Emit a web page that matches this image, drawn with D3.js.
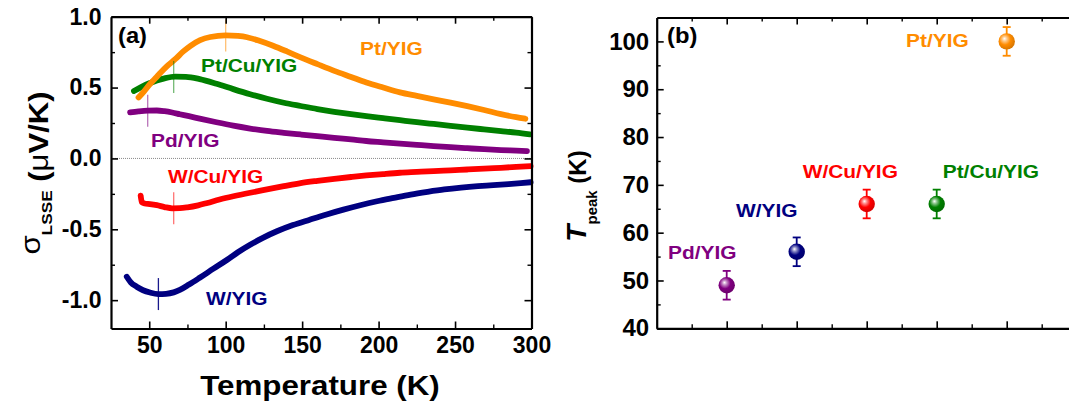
<!DOCTYPE html>
<html>
<head>
<meta charset="utf-8">
<script src="https://cdn.jsdelivr.net/npm/d3@7"></script>
<style>
  html, body { margin: 0; padding: 0; background: #fff; }
  svg { display: block; font-family: "Liberation Sans", Arial, Helvetica, sans-serif; font-weight: bold; }
</style>
</head>
<body>
<svg id="chart" width="1069" height="402"></svg>
<script>
// ---- Samples -------------------------------------------------------------
const samples      = ["Pd/YIG", "W/YIG", "W/Cu/YIG", "Pt/Cu/YIG", "Pt/YIG"];
const sampleColors = ["#800080", "#000080", "#ff0000", "#008000", "#ff8c00"];

// Temperature of the extremum of sigma_LSSE(T) for each sample (K) and its error
const tPeak    = [49, 56, 66, 66, 100];
const tPeakErr = [3, 3, 3, 3, 3];

// ---- sigma_LSSE(T) curves (T in K, sigma in uV/K) ------------------------
const pdYigT = [37.5, 43, 49, 55, 60, 65, 70, 76, 83, 94, 105, 116, 127, 138, 149, 160, 171, 182, 192, 203, 214, 225, 236, 247, 258, 269, 280, 290, 297];
const pdYigS = [0.325, 0.332, 0.337, 0.338, 0.333, 0.324, 0.312, 0.298, 0.281, 0.255, 0.231, 0.211, 0.194, 0.181, 0.169, 0.157, 0.145, 0.134, 0.123, 0.114, 0.105, 0.096, 0.087, 0.079, 0.072, 0.065, 0.059, 0.055, 0.052];

const wYigT = [35.3, 38, 41.8, 46, 50.5, 56, 61, 66, 70, 76, 83, 92, 101, 108, 116, 124, 133.5, 144, 155, 166, 177, 188, 199, 210, 221, 232, 243, 254, 265, 275, 285, 293, 299.4];
const wYigS = [-0.835, -0.875, -0.905, -0.930, -0.946, -0.957, -0.955, -0.945, -0.928, -0.890, -0.842, -0.778, -0.715, -0.662, -0.609, -0.562, -0.514, -0.470, -0.432, -0.395, -0.361, -0.330, -0.302, -0.278, -0.255, -0.236, -0.219, -0.206, -0.196, -0.189, -0.181, -0.174, -0.168];

const wCuYigT = [44.4, 45.2, 47, 50.5, 55, 60, 65, 70, 75, 82, 88, 96, 105, 116, 127, 138, 149, 160, 171, 182, 192, 203, 214, 225, 236, 247, 258, 269, 280, 290, 299.4];
const wCuYigS = [-0.262, -0.310, -0.318, -0.322, -0.330, -0.343, -0.352, -0.351, -0.345, -0.331, -0.314, -0.290, -0.267, -0.242, -0.219, -0.196, -0.174, -0.158, -0.144, -0.131, -0.120, -0.110, -0.101, -0.095, -0.089, -0.084, -0.078, -0.072, -0.066, -0.060, -0.054];

const ptCuYigT = [40, 45, 50.5, 55, 60, 67, 74, 83, 94, 105, 116, 127, 138, 149, 160, 171, 182, 192, 203, 214, 225, 236, 247, 258, 269, 280, 290, 299];
const ptCuYigS = [0.476, 0.505, 0.532, 0.550, 0.565, 0.577, 0.576, 0.560, 0.527, 0.489, 0.453, 0.421, 0.393, 0.370, 0.348, 0.329, 0.312, 0.298, 0.284, 0.270, 0.256, 0.243, 0.230, 0.217, 0.205, 0.193, 0.182, 0.170];

const ptYigT = [43, 46.5, 50.5, 54, 58, 61.5, 67, 72.3, 77, 83.3, 90, 100, 108, 114, 122, 131, 140, 149, 160, 171, 182, 192, 203, 214, 225, 236, 247, 258, 269, 280, 290, 296];
const ptYigS = [0.430, 0.472, 0.525, 0.565, 0.612, 0.650, 0.700, 0.755, 0.795, 0.835, 0.857, 0.868, 0.864, 0.855, 0.830, 0.795, 0.755, 0.713, 0.665, 0.618, 0.575, 0.536, 0.500, 0.466, 0.441, 0.417, 0.394, 0.369, 0.342, 0.313, 0.291, 0.280];

// curves listed in sample order
const curveT = [pdYigT, wYigT, wCuYigT, ptCuYigT, ptYigT];
const curveS = [pdYigS, wYigS, wCuYigS, ptCuYigS, ptYigS];
// drawing order (Pt/YIG passes over Pt/Cu/YIG)
const drawOrder = [0, 1, 2, 3, 4];

// ---- Axis ticks ----------------------------------------------------------
const tempMajor  = [50, 100, 150, 200, 250, 300];
const tempMinor  = [75, 125, 175, 225, 275];
const sigmaMajor = [-1.0, -0.5, 0.0, 0.5, 1.0];
const sigmaMinor = [-0.75, -0.25, 0.25, 0.75];
const sigmaTickLabels = ["-1.0", "-0.5", "0.0", "0.5", "1.0"];
const peakMajor  = [40, 50, 60, 70, 80, 90, 100];
const peakMinor  = [45, 55, 65, 75, 85, 95];
const slotMajor  = [1, 2, 3, 4, 5];
const slotMinor  = [0.5, 1.5, 2.5, 3.5, 4.5, 5.5];

// ---- Layout --------------------------------------------------------------
const svg = d3.select("#chart");
const FONT = "'Liberation Sans', Arial, Helvetica, sans-serif";

const xA = d3.scaleLinear().domain([25, 300]).range([111, 531.5]);
const yA = d3.scaleLinear().domain([-1.2, 1.0]).range([328.5, 16.7]);
const xB = d3.scaleLinear().domain([0, 6]).range([656.7, 1076.7]);
const yB = d3.scaleLinear().domain([40, 105]).range([328.3, 17.5]);

// gradients for the spherical markers
const defs = svg.append("defs");
sampleColors.forEach((c, i) => {
  const g = defs.append("radialGradient").attr("id", "sph" + i)
    .attr("cx", "0.42").attr("cy", "0.40").attr("r", "0.62")
    .attr("fx", "0.36").attr("fy", "0.33");
  g.append("stop").attr("offset", "0").attr("stop-color", "#ffffff");
  g.append("stop").attr("offset", "0.22").attr("stop-color", d3.interpolateRgb(c, "#fff")(0.55));
  g.append("stop").attr("offset", "0.55").attr("stop-color", c);
  g.append("stop").attr("offset", "1").attr("stop-color", d3.color(c).darker(0.5));
});

function styleAxis(g, fontSize) {
  g.attr("font-family", FONT).attr("font-size", fontSize).attr("font-weight", "bold");
  g.selectAll(".domain").attr("stroke", "#000").attr("stroke-width", 2.2);
  g.selectAll(".tick line").attr("stroke", "#000").attr("stroke-width", 1.6);
  g.selectAll(".tick text").attr("fill", "#000");
}
function minorAxis(g) {
  g.select(".domain").remove();
  g.selectAll(".tick line").attr("stroke", "#000").attr("stroke-width", 1.4);
}

// framed box with inward ticks on every side
function frame(x, y, xMaj, xMin, yMaj, yMin, opts) {
  const [x0, x1] = x.range(), [y0, y1] = y.range();
  const g = svg.append("g");
  // minors
  g.append("g").attr("transform", `translate(0,${y0})`)
    .call(d3.axisBottom(x).tickValues(xMin).tickSize(-4).tickFormat("")).call(minorAxis);
  g.append("g").attr("transform", `translate(0,${y1})`)
    .call(d3.axisTop(x).tickValues(xMin).tickSize(-4).tickFormat("")).call(minorAxis);
  g.append("g").attr("transform", `translate(${x0},0)`)
    .call(d3.axisLeft(y).tickValues(yMin).tickSize(-4).tickFormat("")).call(minorAxis);
  g.append("g").attr("transform", `translate(${x1},0)`)
    .call(d3.axisRight(y).tickValues(yMin).tickSize(-4).tickFormat("")).call(minorAxis);
  // majors
  g.append("g").attr("transform", `translate(0,${y0})`)
    .call(d3.axisBottom(x).tickValues(xMaj).tickSize(-7).tickSizeOuter(0)
      .tickPadding(8).tickFormat(opts.xFormat))
    .call(s => styleAxis(s, opts.fontSize));
  g.append("g").attr("transform", `translate(0,${y1})`)
    .call(d3.axisTop(x).tickValues(xMaj).tickSize(-7).tickSizeOuter(0).tickFormat(""))
    .call(s => styleAxis(s, opts.fontSize));
  g.append("g").attr("transform", `translate(${x0},0)`)
    .call(d3.axisLeft(y).tickValues(yMaj).tickSize(-7).tickSizeOuter(0)
      .tickPadding(opts.yPad).tickFormat(opts.yFormat))
    .call(s => styleAxis(s, opts.fontSize));
  g.append("g").attr("transform", `translate(${x1},0)`)
    .call(d3.axisRight(y).tickValues(yMaj).tickSize(-7).tickSizeOuter(0).tickFormat(""))
    .call(s => styleAxis(s, opts.fontSize));
  return g;
}

// ---- Panel (a) -----------------------------------------------------------
const pa = svg.append("g");

// zero reference
pa.append("line")
  .attr("x1", xA(25)).attr("x2", xA(300)).attr("y1", yA(0)).attr("y2", yA(0))
  .attr("stroke", "#8a8a8a").attr("stroke-width", 1).attr("stroke-dasharray", "1,1");

const line = d3.line().curve(d3.curveMonotoneX);
drawOrder.forEach(i => {
  const pts = curveT[i].map((t, k) => [xA(t), yA(curveS[i][k])]);
  pa.append("path").attr("d", line(pts))
    .attr("fill", "none").attr("stroke", sampleColors[i])
    .attr("stroke-width", 5.8).attr("stroke-linecap", "round").attr("stroke-linejoin", "round");
});

// thin markers at T_peak on each curve
samples.forEach((s, i) => {
  const at = d3.scaleLinear().domain(curveT[i]).range(curveS[i]);
  const yc = yA(at(tPeak[i]));
  pa.append("line")
    .attr("x1", xA(tPeak[i])).attr("x2", xA(tPeak[i]))
    .attr("y1", yc - 16).attr("y2", yc + 16)
    .attr("stroke", sampleColors[i]).attr("stroke-opacity", i === 1 ? 0.9 : 0.55)
    .attr("stroke-width", 1.3);
});

frame(xA, yA, tempMajor, tempMinor, sigmaMajor, sigmaMinor, {
  fontSize: 23, yPad: 9.5,
  xFormat: d => String(d),
  yFormat: d => sigmaTickLabels[sigmaMajor.indexOf(d)]
});

// curve labels
const labelsA = [
  { i: 4, x: 360, y: 55 },
  { i: 3, x: 201, y: 71.7 },
  { i: 0, x: 151, y: 146.7 },
  { i: 2, x: 168, y: 182.7 },
  { i: 1, x: 206, y: 305 }
];
labelsA.forEach(d => {
  pa.append("text").attr("transform", `translate(${d.x},${d.y}) scale(1.1,1)`)
    .attr("font-size", 19).attr("fill", sampleColors[d.i]).text(samples[d.i]);
});
pa.append("text").attr("transform", "translate(118,42.5) scale(1.08,1)")
  .attr("font-size", 22).attr("fill", "#000").text("(a)");

// axis titles
pa.append("text").attr("transform", "translate(320,395) scale(1.16,1)")
  .attr("text-anchor", "middle")
  .attr("font-size", 27).attr("fill", "#000").text("Temperature (K)");

const yt = pa.append("text")
  .attr("transform", "translate(48,173) rotate(-90) scale(1.15,1)")
  .attr("text-anchor", "middle").attr("fill", "#000").attr("font-size", 27);
yt.append("tspan").attr("font-weight", "normal").attr("dy", -8).text("σ");
yt.append("tspan").attr("font-size", 15).attr("dy", 11.7).text("LSSE");
yt.append("tspan").attr("dy", -3.7).text(" (");
yt.append("tspan").attr("font-weight", "normal").text("μ");
yt.append("tspan").text("V/K)");

// ---- Panel (b) -----------------------------------------------------------
const pb = svg.append("g");

frame(xB, yB, slotMajor, slotMinor, peakMajor, peakMinor, {
  fontSize: 24, yPad: 7.5,
  xFormat: () => "",
  yFormat: d => String(d)
});

const pts = pb.selectAll("g.pt").data(samples.map((s, i) => ({ s, i })))
  .join("g").attr("class", "pt");
pts.append("line")
  .attr("x1", d => xB(slotMajor[d.i])).attr("x2", d => xB(slotMajor[d.i]))
  .attr("y1", d => yB(tPeak[d.i] + tPeakErr[d.i])).attr("y2", d => yB(tPeak[d.i] - tPeakErr[d.i]))
  .attr("stroke", d => sampleColors[d.i]).attr("stroke-width", 1.8);
[1, -1].forEach(sgn => {
  pts.append("line")
    .attr("x1", d => xB(slotMajor[d.i]) - 4).attr("x2", d => xB(slotMajor[d.i]) + 4)
    .attr("y1", d => yB(tPeak[d.i] + sgn * tPeakErr[d.i]))
    .attr("y2", d => yB(tPeak[d.i] + sgn * tPeakErr[d.i]))
    .attr("stroke", d => sampleColors[d.i]).attr("stroke-width", 1.8);
});
pts.append("circle")
  .attr("cx", d => xB(slotMajor[d.i])).attr("cy", d => yB(tPeak[d.i]))
  .attr("r", 8.2).attr("fill", d => `url(#sph${d.i})`);

const labelsB = [
  { i: 0, x: 668, y: 259 },
  { i: 1, x: 736, y: 217 },
  { i: 2, x: 802.7, y: 178 },
  { i: 3, x: 942.7, y: 178 },
  { i: 4, x: 906, y: 47 }
];
labelsB.forEach(d => {
  pb.append("text").attr("transform", `translate(${d.x},${d.y}) scale(1.1,1)`)
    .attr("font-size", 19).attr("fill", sampleColors[d.i]).text(samples[d.i]);
});
pb.append("text").attr("transform", "translate(667,43) scale(1.08,1)")
  .attr("font-size", 22).attr("fill", "#000").text("(b)");

const yb = pb.append("text")
  .attr("transform", "translate(586,196) rotate(-90)")
  .attr("text-anchor", "middle").attr("fill", "#000").attr("font-size", 24);
yb.append("tspan").attr("font-style", "italic").attr("font-size", 28).text("T");
yb.append("tspan").attr("font-size", 15).attr("dy", 11).text("peak");
yb.append("tspan").attr("dy", -11).text(" (K)");
</script>
</body>
</html>
